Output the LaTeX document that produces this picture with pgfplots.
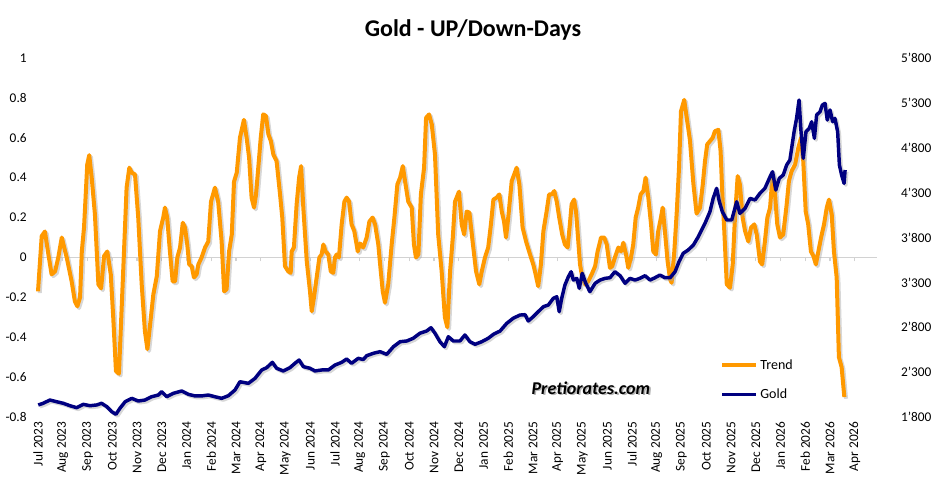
\documentclass[border=0pt]{standalone}
\usepackage{pgfplots}
\usepackage{pgfplotstable}
\pgfplotsset{compat=1.18}
\usepackage{fontspec}
\setmainfont{Carlito}
\definecolor{trendorange}{RGB}{255,153,0}
\definecolor{goldnavy}{RGB}{0,0,128}
\definecolor{zerogrey}{RGB}{210,210,210}

\pgfplotstableread{
m v
0.00 -0.17
0.15 0.107
0.28 0.13
0.42 0.015
0.55 -0.085
0.69 -0.07
0.82 0.00
0.96 0.10
1.16 0.00
1.36 -0.12
1.49 -0.22
1.59 -0.245
1.70 -0.20
1.77 0.03
1.86 0.15
1.99 0.466
2.07 0.513
2.17 0.40
2.30 0.216
2.44 -0.135
2.55 -0.155
2.67 0.007
2.80 0.03
2.94 -0.085
3.04 -0.30
3.15 -0.57
3.27 -0.583
3.42 -0.135
3.52 0.165
3.58 0.35
3.69 0.45
3.79 0.425
3.92 0.416
4.05 0.20
4.19 -0.135
4.32 -0.37
4.42 -0.46
4.53 -0.336
4.66 -0.186
4.80 -0.094
4.93 0.132
5.06 0.20
5.13 0.25
5.22 0.20
5.33 0.03
5.44 -0.12
5.54 -0.12
5.63 0.00
5.74 0.05
5.85 0.174
5.94 0.15
6.03 0.065
6.11 -0.035
6.21 -0.044
6.30 -0.10
6.41 -0.085
6.48 -0.035
6.61 0.00
6.75 0.05
6.88 0.08
6.99 0.28
7.15 0.35
7.28 0.28
7.42 0.08
7.52 -0.17
7.62 -0.16
7.72 0.03
7.83 0.115
7.92 0.38
8.03 0.425
8.16 0.60
8.32 0.69
8.43 0.60
8.53 0.50
8.63 0.30
8.73 0.25
8.81 0.316
8.90 0.45
9.00 0.60
9.10 0.717
9.21 0.71
9.31 0.617
9.41 0.583
9.51 0.516
9.64 0.483
9.78 0.316
9.87 0.20
9.98 -0.044
10.11 -0.07
10.21 -0.077
10.25 0.03
10.34 0.05
10.45 0.266
10.55 0.40
10.63 0.458
10.72 0.25
10.86 -0.02
10.99 -0.17
11.06 -0.27
11.15 -0.20
11.26 -0.10
11.37 0.00
11.46 0.015
11.53 0.065
11.62 0.03
11.73 0.015
11.83 -0.07
11.93 -0.077
12.00 0.00
12.07 0.015
12.16 0.00
12.27 0.166
12.38 0.28
12.47 0.30
12.57 0.28
12.67 0.166
12.78 0.132
12.92 0.03
13.01 0.07
13.14 0.05
13.28 0.10
13.39 0.18
13.52 0.20
13.62 0.166
13.75 0.065
13.85 -0.07
13.93 -0.17
14.02 -0.227
14.15 -0.135
14.29 0.065
14.40 0.20
14.52 0.366
14.63 0.40
14.74 0.458
14.83 0.383
14.96 0.28
15.10 0.25
15.19 0.065
15.27 0.00
15.37 0.015
15.47 0.316
15.60 0.45
15.68 0.70
15.80 0.717
15.91 0.667
16.04 0.516
16.17 0.115
16.31 -0.07
16.44 -0.30
16.54 -0.35
16.65 -0.07
16.76 0.10
16.85 0.28
17.01 0.33
17.12 0.166
17.22 0.115
17.32 0.23
17.43 0.225
17.56 0.08
17.70 -0.07
17.83 -0.135
17.93 -0.07
18.06 0.00
18.19 0.05
18.30 0.166
18.40 0.29
18.53 0.30
18.64 0.316
18.74 0.23
18.83 0.18
18.91 0.10
19.00 0.20
19.14 0.383
19.24 0.416
19.34 0.45
19.45 0.366
19.58 0.15
19.72 0.08
19.88 0.015
20.01 -0.035
20.08 -0.07
20.21 -0.144
20.32 -0.035
20.42 0.132
20.55 0.23
20.65 0.316
20.76 0.316
20.86 0.333
20.96 0.28
21.06 0.20
21.18 0.115
21.29 0.065
21.40 0.05
21.49 0.166
21.56 0.266
21.66 0.29
21.74 0.23
21.81 0.115
21.90 -0.035
21.99 -0.10
22.10 -0.135
22.23 -0.12
22.37 -0.085
22.51 -0.044
22.61 0.03
22.75 0.10
22.88 0.10
22.98 0.065
23.11 -0.052
23.20 -0.044
23.31 0.00
23.45 0.05
23.56 0.03
23.65 0.074
23.76 0.015
23.85 -0.052
23.96 0.00
24.05 0.065
24.15 0.20
24.25 0.25
24.35 0.316
24.46 0.333
24.55 0.40
24.66 0.30
24.77 0.166
24.86 0.03
24.97 0.015
25.06 0.132
25.17 0.20
25.24 0.25
25.33 0.132
25.44 -0.02
25.54 -0.11
25.60 -0.127
25.71 0.03
25.81 0.23
25.90 0.45
25.98 0.733
26.11 0.79
26.25 0.667
26.34 0.59
26.48 0.37
26.61 0.22
26.75 0.25
26.86 0.366
26.95 0.483
27.04 0.567
27.15 0.583
27.26 0.60
27.35 0.633
27.49 0.64
27.58 0.533
27.65 0.316
27.73 0.132
27.83 -0.135
27.96 -0.152
28.07 -0.035
28.16 0.20
28.27 0.408
28.36 0.366
28.47 0.20
28.57 0.132
28.70 0.08
28.81 0.15
28.94 0.166
29.04 0.115
29.17 -0.02
29.26 -0.035
29.37 0.08
29.47 0.20
29.58 0.25
29.68 0.416
29.78 0.316
29.87 0.166
29.98 0.10
30.11 0.115
30.25 0.266
30.34 0.383
30.45 0.433
30.59 0.466
30.72 0.55
30.83 0.60
30.92 0.483
31.02 0.23
31.12 0.166
31.23 0.03
31.33 0.007
31.43 -0.035
31.53 0.03
31.64 0.10
31.76 0.166
31.87 0.25
31.96 0.29
32.07 0.216
32.16 0.03
32.27 -0.10
32.36 -0.50
32.47 -0.55
32.58 -0.70
}\trendtable

\pgfplotstableread{
m g
0.01 1934
0.21 1953
0.48 1989
0.76 1970
1.02 1953
1.29 1926
1.56 1904
1.83 1941
2.10 1926
2.37 1934
2.57 1953
2.78 1915
2.98 1859
3.15 1830
3.31 1897
3.52 1970
3.79 2008
4.05 1978
4.32 1989
4.59 2026
4.86 2045
5.00 2082
5.20 2026
5.47 2064
5.81 2090
6.07 2053
6.34 2035
6.61 2035
6.88 2045
7.15 2026
7.42 2008
7.69 2037
7.96 2101
8.16 2193
8.50 2175
8.77 2231
9.04 2324
9.24 2350
9.47 2409
9.64 2343
9.91 2313
10.18 2350
10.38 2398
10.55 2435
10.72 2361
10.99 2343
11.19 2313
11.46 2324
11.73 2324
12.00 2379
12.27 2409
12.47 2446
12.67 2398
12.94 2454
13.14 2440
13.28 2483
13.55 2510
13.82 2528
14.09 2498
14.36 2583
14.63 2639
14.90 2647
15.16 2677
15.43 2733
15.70 2758
15.88 2795
16.04 2733
16.24 2639
16.42 2583
16.58 2695
16.78 2647
17.05 2647
17.25 2714
17.45 2639
17.66 2610
17.93 2639
18.19 2677
18.40 2721
18.67 2758
18.94 2844
19.20 2900
19.47 2936
19.68 2940
19.81 2870
20.01 2918
20.21 2973
20.42 3029
20.62 3048
20.82 3122
20.96 3140
21.06 2973
21.16 3122
21.29 3271
21.43 3363
21.54 3419
21.63 3326
21.77 3345
21.87 3234
21.99 3401
22.13 3290
22.30 3196
22.51 3290
22.71 3326
22.91 3345
23.11 3352
23.31 3419
23.52 3374
23.72 3290
23.92 3345
24.12 3326
24.32 3345
24.53 3374
24.73 3326
24.93 3352
25.13 3382
25.33 3352
25.54 3352
25.74 3419
25.90 3530
26.07 3624
26.27 3661
26.48 3716
26.68 3809
26.95 3958
27.15 4088
27.28 4236
27.42 4348
27.53 4199
27.65 4088
27.83 3995
28.03 3995
28.23 4199
28.36 4069
28.57 4125
28.77 4236
28.97 4218
29.17 4292
29.37 4348
29.58 4478
29.68 4533
29.81 4329
29.95 4459
30.11 4496
30.25 4608
30.38 4663
30.55 4979
30.65 5128
30.75 5332
30.83 4979
30.92 4682
31.03 4979
31.16 5016
31.26 5090
31.37 4905
31.46 5165
31.60 5202
31.69 5276
31.80 5295
31.89 5109
32.00 5221
32.11 5090
32.20 5128
32.31 4979
32.38 4608
32.47 4496
32.57 4403
32.61 4552
}\goldtable

\begin{document}
\begin{tikzpicture}[x=1pt,y=1pt]
\useasboundingbox (-28.5,-57.75) rectangle (680.25,312.75);
\pgfplotsset{
  base/.style={
    at={(0,0)}, anchor=south west,
    width=629.25pt, height=269.25pt, scale only axis,
    xmin=0, xmax=33.9,
    clip=false,
    /pgf/number format/assume math mode=true,
    tick label style={font=\fontsize{10}{12}\selectfont},
  },
  shadowline/.style={black!35, opacity=0.45, line join=round, xshift=1.3pt, yshift=-1.3pt, forget plot},
}
\begin{axis}[base,
  ymin=-0.8, ymax=1,
  axis x line*=middle, axis y line*=left,
  x axis line style={zerogrey, line width=1.1pt, -},
  y axis line style={draw=none},
  xtick={0,...,33}, xticklabels={},
  xtick align=outside, major tick length=3pt,
  xtick style={zerogrey, line width=0.8pt},
  ytick={-0.8,-0.6,-0.4,-0.2,0,0.2,0.4,0.6,0.8,1},
  yticklabels={-0.8,-0.6,-0.4,-0.2,0,0.2,0.4,0.6,0.8,1},
  ytick style={draw=none},
  yticklabel style={xshift=-5pt},
]
\addplot[shadowline, line width=3pt] table[x=m,y=v]{\trendtable};
\addplot[trendorange, line width=3pt, line join=round] table[x=m,y=v]{\trendtable};
\end{axis}
\begin{axis}[base,
  ymin=1800, ymax=5800,
  axis x line*=bottom, axis y line*=right,
  axis line style={draw=none},
  xtick={0,...,33},
  xticklabels={Jul 2023,Aug 2023,Sep 2023,Oct 2023,Nov 2023,Dec 2023,Jan 2024,Feb 2024,Mar 2024,Apr 2024,May 2024,Jun 2024,Jul 2024,Aug 2024,Sep 2024,Oct 2024,Nov 2024,Dec 2024,Jan 2025,Feb 2025,Mar 2025,Apr 2025,May 2025,Jun 2025,Jul 2025,Aug 2025,Sep 2025,Oct 2025,Nov 2025,Dec 2025,Jan 2026,Feb 2026,Mar 2026,Apr 2026},
  xticklabel style={rotate=90, anchor=east},
  xtick style={draw=none},
  ytick={1800,2300,2800,3300,3800,4300,4800,5300,5800},
  yticklabels={1’800,2’300,2’800,3’300,3’800,4’300,4’800,5’300,5’800},
  ytick style={draw=none},
  yticklabel style={xshift=14.5pt},
  legend style={draw=none, fill=none, at={(0.813,0.168)}, anchor=north west,
    font=\fontsize{10.5}{12}\selectfont, row sep=9pt, inner sep=0pt},
  legend cell align=left,
  legend image code/.code={\draw[#1] (0pt,0pt) -- (25pt,0pt);},
]
\addlegendimage{trendorange, line width=3pt}
\addlegendentry{Trend}
\addplot[shadowline, line width=2.6pt] table[x=m,y=g]{\goldtable};
\addplot[goldnavy, line width=2.6pt, line join=round] table[x=m,y=g]{\goldtable};
\addlegendentry{Gold}
\node[font=\bfseries\itshape\fontsize{13.5}{15}\selectfont, text=black!30, xshift=1.2pt, yshift=-1.2pt] at (rel axis cs:0.659,0.081) {Pretiorates.com};
\node[font=\bfseries\itshape\fontsize{13.5}{15}\selectfont] at (rel axis cs:0.659,0.081) {Pretiorates.com};
\end{axis}
\node[font=\bfseries\fontsize{18}{21}\selectfont] at (326.25,290.25) {Gold - UP/Down-Days};
\end{tikzpicture}
\end{document}
